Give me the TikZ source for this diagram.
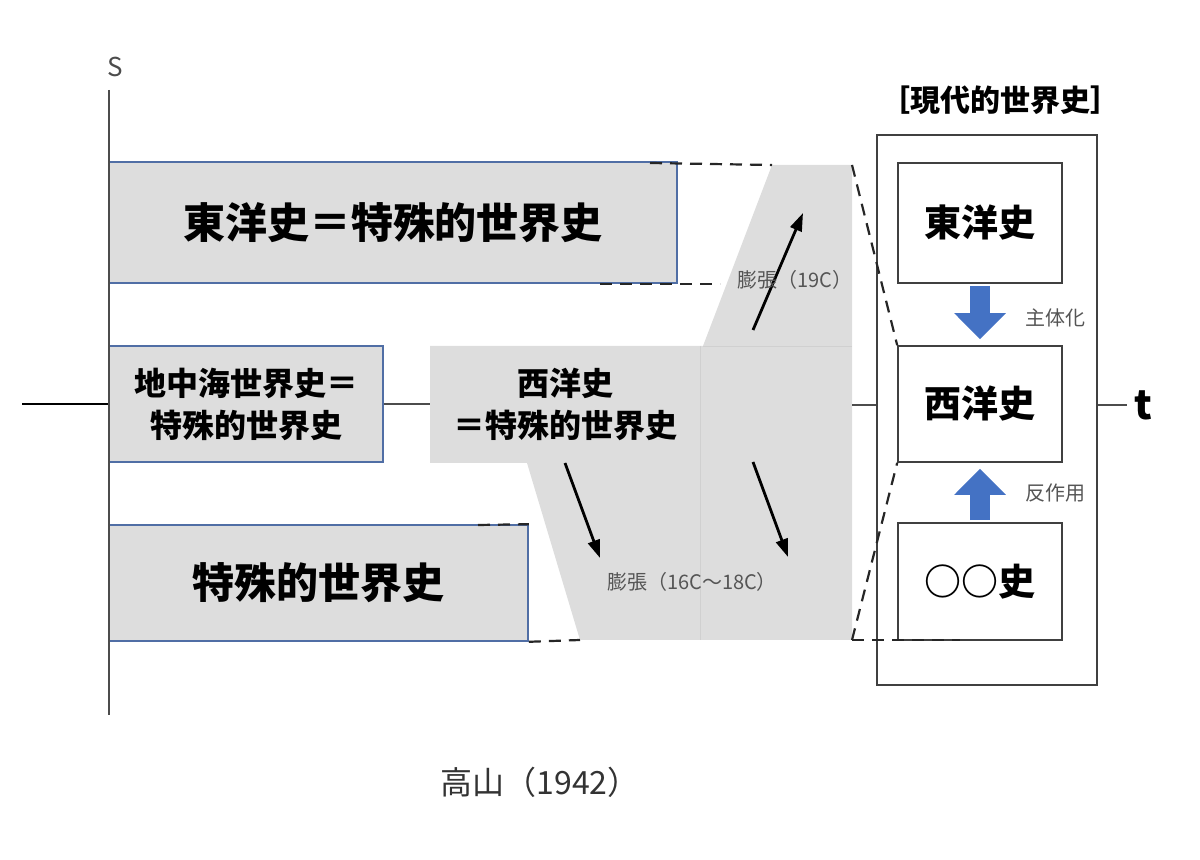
\documentclass[tikz,border=0pt]{standalone}
\usepackage{fontspec}
\setmainfont{Noto Sans CJK JP}
\usetikzlibrary{arrows.meta}
\definecolor{boxgray}{RGB}{221,221,221}
\definecolor{seamgray}{RGB}{208,208,208}
\definecolor{edgeblue}{RGB}{80,110,165}
\definecolor{arrowblue}{RGB}{68,114,196}
\definecolor{labelgray}{RGB}{85,85,85}
\tikzset{
  histbox/.style={draw=edgeblue, fill=boxgray, inner sep=0pt, line width=0.8pt},
  whitebox/.style={draw=black!75, fill=white, inner sep=0pt, line width=0.8pt, minimum width=82pt},
  bigtext/.style={font=\fontsize{21}{25}\selectfont\bfseries},
  midtext/.style={align=center, font=\fontsize{16}{21}\selectfont\bfseries},
  innertext/.style={font=\fontsize{18.5}{20}\selectfont\bfseries},
  smalllabel/.style={text=labelgray, font=\fontsize{10}{12}\selectfont},
  axisline/.style={black!70, line width=1pt},
  dashline/.style={black!85, line width=1.1pt, dash pattern=on 6pt off 4pt},
  bluearrow/.style={arrowblue, line width=10pt, -{Triangle[width=25pt,length=13pt]}, shorten <=1pt, shorten >=3pt},
  blackarrow/.style={black, line width=1.4pt, -{Triangle[width=6pt,length=9pt]}},
}
\begin{document}
\begin{tikzpicture}[x=0.5pt,y=-0.5pt]
\useasboundingbox (0,0) rectangle (1200,860);

% area of the expanding west
\coordinate (g1) at (772,165);
\coordinate (g2) at (852,165);
\coordinate (g3) at (852,640);
\coordinate (g4) at (580,640);
\coordinate (g5) at (527,463);
\coordinate (gm) at (852,405);
\fill[boxgray] (430,346) -- (703,346) -- (g1) -- (g2) -- (g3) -- (g4) -- (g5) -- (430,463) -- cycle;
\draw[seamgray, line width=0.5pt] (700,346) -- (700,640);
\draw[seamgray, line width=0.5pt] (703,347) -- (852,347);

\node[histbox, minimum width=284pt, minimum height=60.5pt, bigtext] (toyo) at (393,222.5) {東洋史＝特殊的世界史};
\node[histbox, minimum width=137pt, minimum height=58pt, midtext] (chichu) at (246,404) {地中海世界史＝\\特殊的世界史};
\node[histbox, minimum width=209.5pt, minimum height=58pt, bigtext] (tokushu) at (318.5,583) {特殊的世界史};
\node[minimum width=135pt, minimum height=58pt, inner sep=0pt, midtext] (seiyo) at (565,404) {西洋史\\＝特殊的世界史};

% axes
\draw[axisline] (109,90) -- (109,715);
\node[text=black!70, font=\fontsize{13}{13}\selectfont] (s) at (115,67) {S};
\coordinate (tstart) at (22,404);
\draw[black, line width=1pt] (tstart) -- (chichu.west);
\draw[axisline] (chichu.east) -- (seiyo.west);

\node[draw=black!75, line width=1pt, minimum width=110pt, minimum height=275pt] (gendai) at (987,410) {};
\node[font=\fontsize{15}{15}\selectfont\bfseries] (title) at (1000,100) {［現代的世界史］};
\node[whitebox, minimum height=60pt, innertext] (toyoR) at (980,223) {東洋史};
\node[whitebox, minimum height=58pt, innertext] (seiyoR) at (980,404) {西洋史};
\node[whitebox, minimum height=58.5pt, innertext] (maruR) at (980,581.5) {○○史};
\node[font=\fontsize{20}{20}\selectfont\bfseries] (t) at (1143,405) {t};
\draw[axisline] (gm) -- (gm -| gendai.west);
\draw[axisline] (gendai.east |- t.west) -- (t.west);

\draw[bluearrow] (toyoR.south) -- (seiyoR.north);
\draw[bluearrow] (maruR.north) -- (seiyoR.south);
\node[smalllabel] (shutai) at (1055,318) {主体化};
\node[smalllabel] (hansayo) at (1055,493) {反作用};

% dashed guides
\coordinate (d1) at (650,163);
\coordinate (d2) at (600,284);
\coordinate (d3) at (720,284);
\coordinate (d4) at (478,525);
\coordinate (d5) at (960,640);
\draw[dashline] (d1) -- (g1);
\draw[dashline] (d2) -- (d3);
\draw[dashline] (d4) -- (tokushu.north east);
\draw[dashline] (tokushu.south east) -- (g4);
\draw[dashline] (g2) -- (seiyoR.north west);
\draw[dashline] (g3) -- (seiyoR.south west);
\draw[dashline] (g3) -- (d5);

% expansion arrows
\coordinate (a1) at (753,330);
\coordinate (a2) at (803,213);
\coordinate (a3) at (565,463);
\coordinate (a4) at (600,558);
\coordinate (a5) at (753,462);
\coordinate (a6) at (788,557);
\draw[blackarrow] (a1) -- (a2);
\draw[blackarrow] (a3) -- (a4);
\draw[blackarrow] (a5) -- (a6);
\node[smalllabel] (bocho1) at (795,280) {膨張（19C）};
\node[smalllabel] (bocho2) at (692,582) {膨張（16C～18C）};

\node[text=black!80, font=\fontsize{16}{16}\selectfont] (cap) at (540,782) {高山（1942）};
\end{tikzpicture}
\end{document}
